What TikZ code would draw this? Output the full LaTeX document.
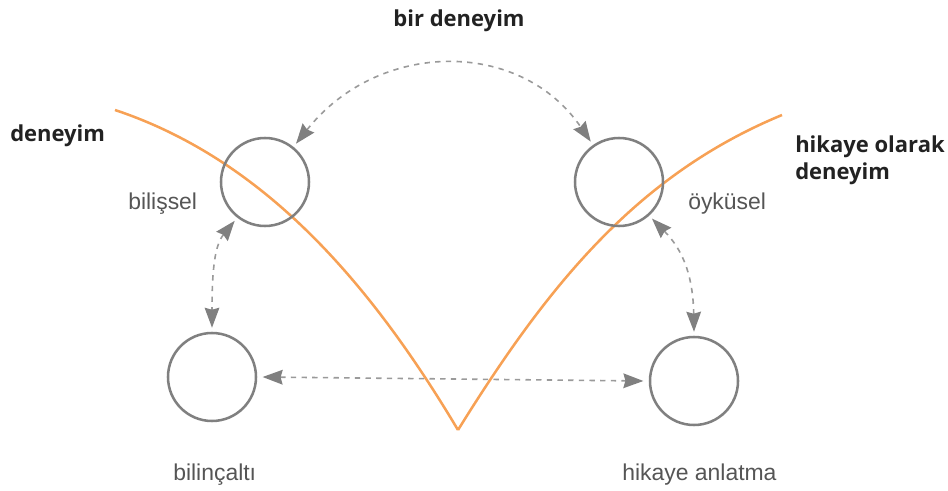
\documentclass[tikz,border=0pt]{standalone}
\usepackage{fontspec}
\setmainfont{Liberation Sans}
\newfontfamily\boldfam{Open Sans}
\usetikzlibrary{arrows.meta}
\definecolor{ringgray}{HTML}{808080}
\definecolor{dashgray}{HTML}{9A9A9A}
\definecolor{curveorange}{HTML}{F7A155}
\definecolor{labelgray}{HTML}{555555}
\definecolor{titleblack}{HTML}{222222}
\tikzset{
  tip/.tip={Stealth[length=15pt,width=11pt,inset=1.5pt,fill=ringgray,color=ringgray]},
  ring/.style={circle, draw=ringgray, line width=1.9pt, minimum size=66pt, inner sep=0pt},
  link/.style={draw=dashgray, line width=1.2pt, dash pattern=on 4pt off 4pt, tip-tip},
  arc/.style={draw=curveorange, line width=1.9pt},
  title/.style={font=\boldfam\bfseries\fontsize{16.5}{20}\selectfont, text=titleblack, inner sep=0pt, align=left},
  label/.style={font=\fontsize{17.2}{20}\selectfont, text=labelgray, inner sep=0pt}
}
\begin{document}
\begin{tikzpicture}[x=0.75pt,y=-0.75pt]
\useasboundingbox (0,0) rectangle (948,491);
% orange curves
\coordinate (vtip) at (458,430);
\coordinate (lstart) at (115,110);
\coordinate (rend) at (782,115);
\draw[arc] (lstart) .. controls (265,160) and (371,284) .. (vtip);
\draw[arc] (vtip) .. controls (548,285) and (637,175) .. (rend);
% circles
\node[ring] (cog) at (265,182) {};
\node[ring] (nar) at (619,182) {};
\node[ring] (sub) at (212,377) {};
\node[ring] (tel) at (694,381) {};
% dashed links
\path[link] ([shift={(51:3pt)}]cog.51) .. controls (378,40) and (520,38) .. ([shift={(125:3pt)}]nar.125);
\path[link] ([shift={(232:3pt)}]cog.232) .. controls (215,245) and (212,268) .. ([shift={(90:3pt)}]sub.90);
\path[link] ([shift={(312:3pt)}]nar.312) .. controls (678,245) and (693,268) .. ([shift={(90:3pt)}]tel.90);
\path[link] ([shift={(0:4pt)}]sub.0) -- ([shift={(180:4pt)}]tel.180);
% texts
\node[title, anchor=base] (t1) at (459,27) {bir deneyim};
\node[title, anchor=base west] (t2) at (10,142) {deneyim};
\node[title, anchor=base west] (t3) at (795,153) {hikaye olarak};
\node[title, anchor=base west] (t4) at (795,180) {deneyim};
\node[label, anchor=base west] (l1) at (128,210) {bilişsel};
\node[label, anchor=base west] (l2) at (688,210) {öyküsel};
\node[label, anchor=base west] (l3) at (173,480) {bilinçaltı};
\node[label, anchor=base west] (l4) at (622,480) {hikaye anlatma};
\end{tikzpicture}
\end{document}
